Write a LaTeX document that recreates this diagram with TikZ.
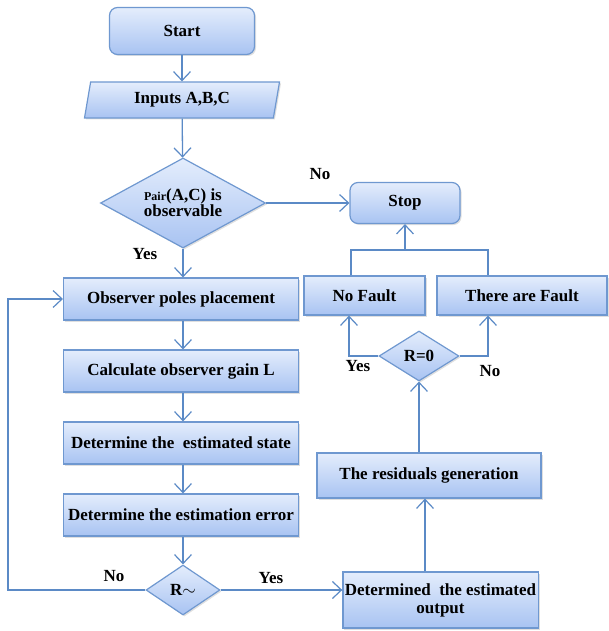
\documentclass[tikz,border=0pt]{standalone}
\usepackage{fontspec}
\setmainfont{Liberation Serif}
\usetikzlibrary{shapes.geometric,arrows.meta,shadows}
\definecolor{lc}{HTML}{5B8AC6}
\definecolor{bc}{HTML}{6F98D0}
\definecolor{topc}{HTML}{E4EDFC}
\definecolor{botc}{HTML}{A8C3F2}
\tikzset{
  box/.style={draw=bc, line width=1.2pt, top color=topc, bottom color=botc,
    drop shadow={shadow xshift=1.5pt, shadow yshift=-1.5pt, opacity=0.25},
    font=\bfseries\fontsize{17}{18}\selectfont, align=center, inner sep=2pt},
  rbox/.style={box, rounded corners=8pt},
  dbox/.style={box, diamond, inner sep=0pt},
  conn/.style={draw=lc, line width=1.3pt, -{Straight Barb[length=9pt,width=17pt,line width=1.2pt]}},
  plain/.style={draw=lc, line width=1.3pt},
  lbl/.style={font=\bfseries\fontsize{17}{18}\selectfont, inner sep=0pt}
}
\begin{document}
\begin{tikzpicture}[x=1pt,y=-1pt]
\useasboundingbox (0,0) rectangle (608,631);
\node[rbox, minimum width=145pt, minimum height=47pt] (start) at (182,31) {Start};
\node[box, trapezium, trapezium left angle=72, trapezium right angle=108, trapezium stretches body, minimum width=195pt, minimum height=36pt] (inputs) at (182,100) {Inputs A,B,C};
\node[dbox, inner sep=-10pt, minimum width=165pt, minimum height=90pt] (pair) at (183,203) {{\fontsize{12}{13}\selectfont Pair}(A,C) is\\[-2pt]observable};
\node[rbox, minimum width=110pt, minimum height=41pt] (stop) at (405,203) {Stop};
\node[box, minimum width=235pt, minimum height=42pt] (obs) at (181,299) {Observer poles placement};
\node[box, minimum width=235pt, minimum height=42pt] (calc) at (181,371) {Calculate observer gain L};
\node[box, minimum width=235pt, minimum height=42pt] (state) at (181,443) {Determine the\ \ estimated state};
\node[box, minimum width=235pt, minimum height=42pt] (err) at (181,515) {Determine the estimation error};
\node[dbox, minimum width=74pt, minimum height=50pt] (rt) at (183,590) {R$\sim$};
\node[box, minimum width=195pt, minimum height=56pt] (det) at (440.5,600) {Determined\ \ the estimated\\output};
\node[box, minimum width=224pt, minimum height=45pt] (res) at (429,475.5) {The residuals generation};
\node[dbox, minimum width=80pt, minimum height=50pt] (r0) at (419,356) {R=0};
\node[box, minimum width=121pt, minimum height=39pt] (nf) at (364.5,295.5) {No Fault};
\node[box, minimum width=170pt, minimum height=39pt] (tf) at (522,295.5) {There are Fault};
\coordinate (loopb) at (8,590);
\coordinate (join) at (405,250);
% connectors
\draw[conn] (start) -- (inputs);
\draw[conn] (inputs) -- (pair);
\draw[conn] (pair.east) -- (pair.east -| stop.west);
\draw[conn] (pair.south) -- (obs.north -| pair.south);
\draw[conn] (obs.south -| pair.south) -- (calc.north -| pair.south);
\draw[conn] (calc.south -| pair.south) -- (state.north -| pair.south);
\draw[conn] (state.south -| pair.south) -- (err.north -| pair.south);
\draw[conn] (err.south -| rt.north) -- (rt.north);
\draw[conn] (rt.west) -- (loopb) |- (obs.west);
\draw[conn] (rt.east) -- (rt.east -| det.west);
\draw[conn] (det.north -| 425,0) -- (res.south -| 425,0);
\draw[conn] (res.north -| r0.south) -- (r0.south);
\draw[conn] (r0.west) -| (nf.south -| 349,0);
\draw[conn] (r0.east) -| (tf.south -| 488,0);
\draw[plain] (nf.north -| 351,0) |- (join) -| (tf.north -| 488,0);
\draw[conn] (join) -- (stop.south);
% labels
\node[lbl] (l1) at (320,174) {No};
\node[lbl] (l2) at (145,254) {Yes};
\node[lbl] (l3) at (114,576) {No};
\node[lbl] (l4) at (271,578) {Yes};
\node[lbl] (l5) at (358,366) {Yes};
\node[lbl] (l6) at (490,371) {No};
\end{tikzpicture}
\end{document}
